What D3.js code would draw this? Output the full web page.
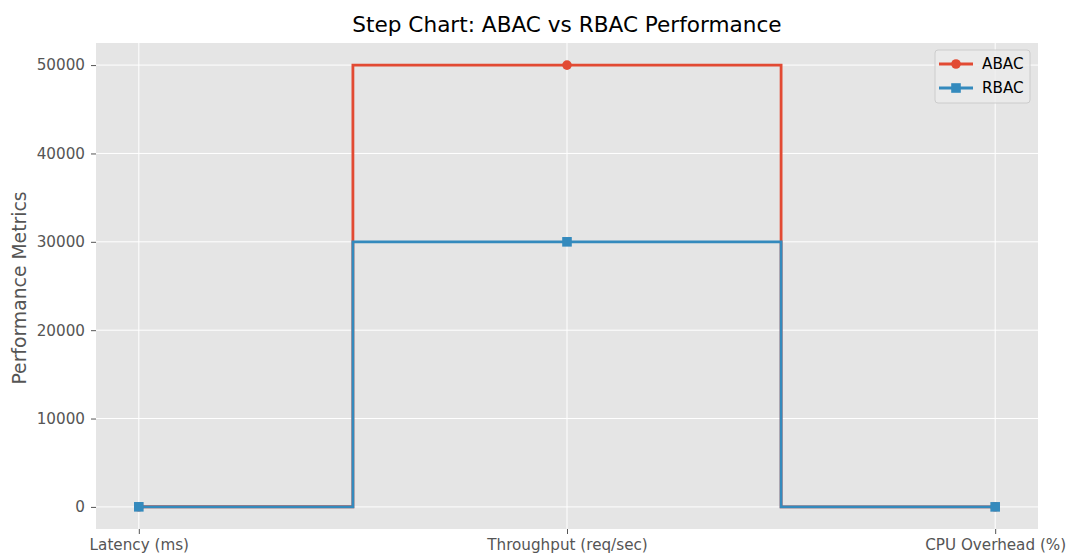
<!DOCTYPE html>
<html>
<head>
<meta charset="utf-8">
<script src="https://cdn.jsdelivr.net/npm/d3@7"></script>
<style>
  body { margin: 0; background: #fff; }
  text { font-family: "DejaVu Sans", sans-serif; }
</style>
</head>
<body>
<svg id="chart"></svg>
<script>
// Data
const categories = ["Latency (ms)", "Throughput (req/sec)", "CPU Overhead (%)"];
const abacValues = [20, 50000, 15];
const rbacValues = [10, 30000, 5];
const yTicks = [0, 10000, 20000, 30000, 40000, 50000];

const series = [
  { name: "ABAC", values: abacValues, color: "#E24A33", marker: "circle" },
  { name: "RBAC", values: rbacValues, color: "#348ABD", marker: "square" }
];

const width = 1067, height = 556;
const margin = { top: 43, right: 29, bottom: 27, left: 96 };
const innerW = width - margin.left - margin.right;
const innerH = height - margin.top - margin.bottom;

const svg = d3.select("#chart")
  .attr("width", width)
  .attr("height", height);

// Scales with matplotlib-like 5% margins
const xScale = d3.scaleLinear()
  .domain([-0.1, 2.1])
  .range([0, innerW]);

const yScale = d3.scaleLinear()
  .domain([-2500, 52500])
  .range([innerH, 0]);

const chart = svg.append("g")
  .attr("transform", `translate(${margin.left},${margin.top})`);

// Background
chart.append("rect")
  .attr("width", innerW)
  .attr("height", innerH)
  .attr("fill", "#E5E5E5");

// Grid lines
chart.selectAll(".ygrid")
  .data(yTicks)
  .join("line")
  .attr("class", "ygrid")
  .attr("x1", 0).attr("x2", innerW)
  .attr("y1", d => yScale(d)).attr("y2", d => yScale(d))
  .attr("stroke", "#fff")
  .attr("stroke-width", 1);

chart.selectAll(".xgrid")
  .data(categories)
  .join("line")
  .attr("class", "xgrid")
  .attr("x1", (d, i) => xScale(i)).attr("x2", (d, i) => xScale(i))
  .attr("y1", 0).attr("y2", innerH)
  .attr("stroke", "#fff")
  .attr("stroke-width", 1);

// Axes
const xAxis = d3.axisBottom(xScale)
  .tickValues([0, 1, 2])
  .tickFormat(i => categories[i])
  .tickSize(5)
  .tickPadding(5);

const yAxis = d3.axisLeft(yScale)
  .tickValues(yTicks)
  .tickFormat(d3.format("d"))
  .tickSize(5)
  .tickPadding(6);

const xAxisG = chart.append("g")
  .attr("transform", `translate(0,${innerH})`)
  .call(xAxis);

const yAxisG = chart.append("g")
  .call(yAxis);

[xAxisG, yAxisG].forEach(g => {
  g.select(".domain").remove();
  g.selectAll(".tick line").attr("stroke", "#555555");
  g.selectAll(".tick text")
    .attr("fill", "#555555")
    .style("font-size", "15.2px")
    .style("font-family", "DejaVu Sans, sans-serif");
});

// Step lines (steps-mid)
const line = d3.line()
  .x((d, i) => xScale(i))
  .y(d => yScale(d))
  .curve(d3.curveStep);

series.forEach(s => {
  chart.append("path")
    .datum(s.values)
    .attr("fill", "none")
    .attr("stroke", s.color)
    .attr("stroke-width", 2.8)
    .attr("d", line);

  if (s.marker === "circle") {
    chart.selectAll(".pt-" + s.name)
      .data(s.values)
      .join("circle")
      .attr("class", "pt-" + s.name)
      .attr("cx", (d, i) => xScale(i))
      .attr("cy", d => yScale(d))
      .attr("r", 4.8)
      .attr("fill", s.color);
  } else {
    chart.selectAll(".pt-" + s.name)
      .data(s.values)
      .join("rect")
      .attr("class", "pt-" + s.name)
      .attr("x", (d, i) => xScale(i) - 4.8)
      .attr("y", d => yScale(d) - 4.8)
      .attr("width", 9.6)
      .attr("height", 9.6)
      .attr("fill", s.color);
  }
});

// Title
svg.append("text")
  .attr("x", margin.left + innerW / 2)
  .attr("y", 32)
  .attr("text-anchor", "middle")
  .style("font-size", "21.6px")
  .attr("fill", "#000")
  .text("Step Chart: ABAC vs RBAC Performance");

// Y label
svg.append("text")
  .attr("transform", `translate(26,${margin.top + innerH / 2 + 2}) rotate(-90)`)
  .attr("text-anchor", "middle")
  .style("font-size", "18.8px")
  .attr("fill", "#555555")
  .text("Performance Metrics");

// Legend
const legend = svg.append("g")
  .attr("transform", "translate(935,50)");

legend.append("rect")
  .attr("width", 95)
  .attr("height", 53)
  .attr("rx", 3)
  .attr("fill", "#EBEBEB")
  .attr("fill-opacity", 0.8)
  .attr("stroke", "#CCCCCC")
  .attr("stroke-width", 1);

series.forEach((s, i) => {
  const y = 14 + i * 24;
  legend.append("line")
    .attr("x1", 4).attr("x2", 38)
    .attr("y1", y).attr("y2", y)
    .attr("stroke", s.color)
    .attr("stroke-width", 2.8);
  if (s.marker === "circle") {
    legend.append("circle")
      .attr("cx", 21).attr("cy", y).attr("r", 4.8)
      .attr("fill", s.color);
  } else {
    legend.append("rect")
      .attr("x", 21 - 4.8).attr("y", y - 4.8)
      .attr("width", 9.6).attr("height", 9.6)
      .attr("fill", s.color);
  }
  legend.append("text")
    .attr("x", 47)
    .attr("y", y + 5)
    .style("font-size", "15.2px")
    .attr("fill", "#000")
    .text(s.name);
});
</script>
</body>
</html>
